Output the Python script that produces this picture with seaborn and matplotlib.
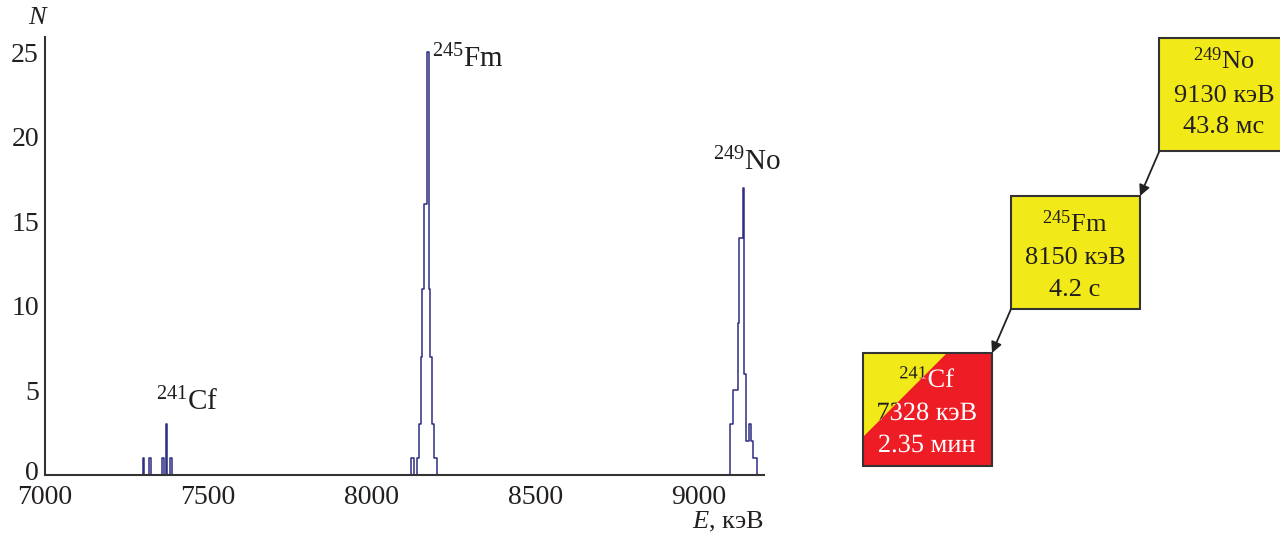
import numpy as np
import pandas as pd
import matplotlib
matplotlib.use("Agg")
import matplotlib.pyplot as plt
import seaborn as sns
from matplotlib.patches import Rectangle, Polygon, PathPatch
from matplotlib.textpath import TextPath
from matplotlib.font_manager import FontProperties
from matplotlib.transforms import Affine2D, ScaledTranslation

# ---------------- data ----------------
# bin centres (keV) of the non-empty 5 keV bins and their counts
cf_energy = [7302.5, 7322.5, 7362.5, 7372.5, 7387.5]
cf_counts = [1, 1, 1, 3, 1]

fm_energy = [8122.5, 8127.5, 8142.5, 8147.5, 8152.5, 8157.5, 8162.5, 8167.5,
             8172.5, 8177.5, 8182.5, 8187.5, 8192.5, 8197.5]
fm_counts = [1, 1, 1, 3, 7, 11, 16, 16, 25, 11, 7, 3, 1, 1]

no_energy = [9097.5, 9102.5, 9107.5, 9112.5, 9117.5, 9122.5, 9127.5, 9132.5,
             9137.5, 9142.5, 9147.5, 9152.5, 9157.5, 9162.5, 9167.5, 9172.5, 9177.5]
no_counts = [3, 3, 5, 5, 5, 9, 14, 14, 17, 6, 2, 2, 3, 2, 1, 1, 1]

x_ticks = [7000, 7500, 8000, 8500, 9000]
y_ticks = [0, 5, 10, 15, 20, 25]

peak_labels = [("241", "Cf", 7342, 4.3), ("245", "Fm", 8186, 24.6), ("249", "No", 9045, 18.5)]

chain = [("249", "No", "9130 кэВ", "43.8 мс"),
         ("245", "Fm", "8150 кэВ", "4.2 с"),
         ("241", "Cf", "7328 кэВ", "2.35 мин")]

# ---------------- style ----------------
sns.set_theme(style="white")
plt.rcParams["font.family"] = ["Liberation Serif", "DejaVu Serif"]
plt.rcParams["mathtext.fontset"] = "custom"
plt.rcParams["mathtext.rm"] = "Liberation Serif"
plt.rcParams["mathtext.it"] = "Liberation Serif:italic"
plt.rcParams["mathtext.bf"] = "Liberation Serif:bold"

TXT = "#231f20"
NAVY = "#2e2d82"
YELLOW = "#f2e919"
RED = "#ee1c25"

fig = plt.figure(figsize=(12.8, 5.35), dpi=100)
ax = fig.add_axes([44.5 / 1280, 60 / 535, 719.5 / 1280, 438 / 535])

groups = [(cf_energy, cf_counts, (7295, 7395)),
          (fm_energy, fm_counts, (8115, 8210)),
          (no_energy, no_counts, (9090, 9185))]
for e, c, rng in groups:
    df = pd.DataFrame({"E": e, "N": c})
    sns.histplot(data=df, x="E", weights="N", binwidth=5, binrange=rng,
                 element="step", fill=False, color=NAVY, linewidth=1.1, ax=ax)

ax.set_xlim(7000, 9200)
ax.set_ylim(0, 25.9)
ax.set_xticks(x_ticks)
ax.set_yticks(y_ticks)
ax.set_xticklabels([str(t) for t in x_ticks])
ax.set_yticklabels([str(t) for t in y_ticks])
ax.tick_params(direction="in", length=9, width=1.2, colors=TXT, labelsize=20, pad=4)
ax.tick_params(axis="x", pad=7)
for s in ["top", "right"]:
    ax.spines[s].set_visible(False)
for s in ["left", "bottom"]:
    ax.spines[s].set_color("#333333")
    ax.spines[s].set_linewidth(1.5)
ax.set_xlabel("")
ax.set_ylabel("")
ax.patch.set_alpha(0)
# lift the "0" label slightly, as in the reference
lbl0 = ax.get_yticklabels()[0]
lbl0.set_transform(lbl0.get_transform() + ScaledTranslation(0, 5 / 100, fig.dpi_scale_trans))

ax.annotate("$N$", xy=(0, 1), xycoords="axes fraction", xytext=(-4, 6),
            textcoords="offset points", ha="center", va="bottom", fontsize=19, color=TXT)
ax.annotate("$E$, кэВ", xy=(1, 0), xycoords="axes fraction", xytext=(0, -25),
            textcoords="offset points", ha="right", va="top", fontsize=19, color=TXT)

for sup, el, x, y in peak_labels:
    ax.text(x, y, f"$^{{{sup}}}$" + el, fontsize=21, color=TXT, ha="left", va="center")

# ---------------- decay chain diagram ----------------
ov = fig.add_axes([0, 0, 1, 1])
ov.set_xlim(0, 1280)
ov.set_ylim(535, 0)
ov.axis("off")
ov.patch.set_alpha(0)

FS = 19
fp = FontProperties(family="Liberation Serif")
size_px = FS * 100 / 72

def path_text(s, cx, base, color, clip):
    tp = TextPath((0, 0), s, size=size_px, prop=fp)
    ext = tp.get_extents()
    tr = Affine2D().translate(-(ext.x0 + ext.x1) / 2, 0).scale(1, -1).translate(cx, base) + ov.transData
    pp = PathPatch(tp, transform=tr, facecolor=color, edgecolor="none", lw=0)
    ov.add_patch(pp)
    pp.set_clip_path(clip)

boxes = [(1159, 38, 1300, 151), (1011, 196, 1140, 309), (863, 353, 992, 466)]
centers = [1224, 1075, 927]
baselines = [(69, 102, 133), (232, 264, 296), (387, 420, 452)]
for i, ((x0, y0, x1, y1), (sup, el, en, tt)) in enumerate(zip(boxes, chain)):
    cx = centers[i]
    texts = [f"$^{{{sup}}}$" + el, en, tt]
    if i < 2:
        ov.add_patch(Rectangle((x0, y0), x1 - x0, y1 - y0, facecolor=YELLOW,
                               edgecolor="#333333", lw=1.5))
        for s, yy in zip(texts, baselines[i]):
            ov.text(cx, yy, s, fontsize=FS, color=TXT, ha="center", va="baseline")
    else:
        ov.add_patch(Rectangle((x0, y0), x1 - x0, y1 - y0, facecolor=RED,
                               edgecolor="none", lw=0))
        tri = Polygon([(x0, y0), (947, y0), (x0, 437)], closed=True,
                      facecolor=YELLOW, edgecolor="none")
        ov.add_patch(tri)
        redp = Polygon([(947, y0), (x1, y0), (x1, y1), (x0, y1), (x0, 437)], closed=True,
                       facecolor="none", edgecolor="none")
        ov.add_patch(redp)
        for s, yy in zip(texts, baselines[i]):
            path_text(s, cx, yy, "white", redp)
            path_text(s, cx, yy, TXT, tri)
        ov.add_patch(Rectangle((x0, y0), x1 - x0, y1 - y0, facecolor="none",
                               edgecolor="#333333", lw=1.5))

arrows = [((1159, 152), (1140, 196)), ((1011, 309), (992, 353))]
for (xs, ys), (xe, ye) in arrows:
    ov.annotate("", xy=(xe, ye), xytext=(xs, ys),
                arrowprops=dict(arrowstyle="-|>", color="#222222", lw=1.3,
                                mutation_scale=16, shrinkA=0, shrinkB=0))

fig.savefig("out.png", dpi=100)
